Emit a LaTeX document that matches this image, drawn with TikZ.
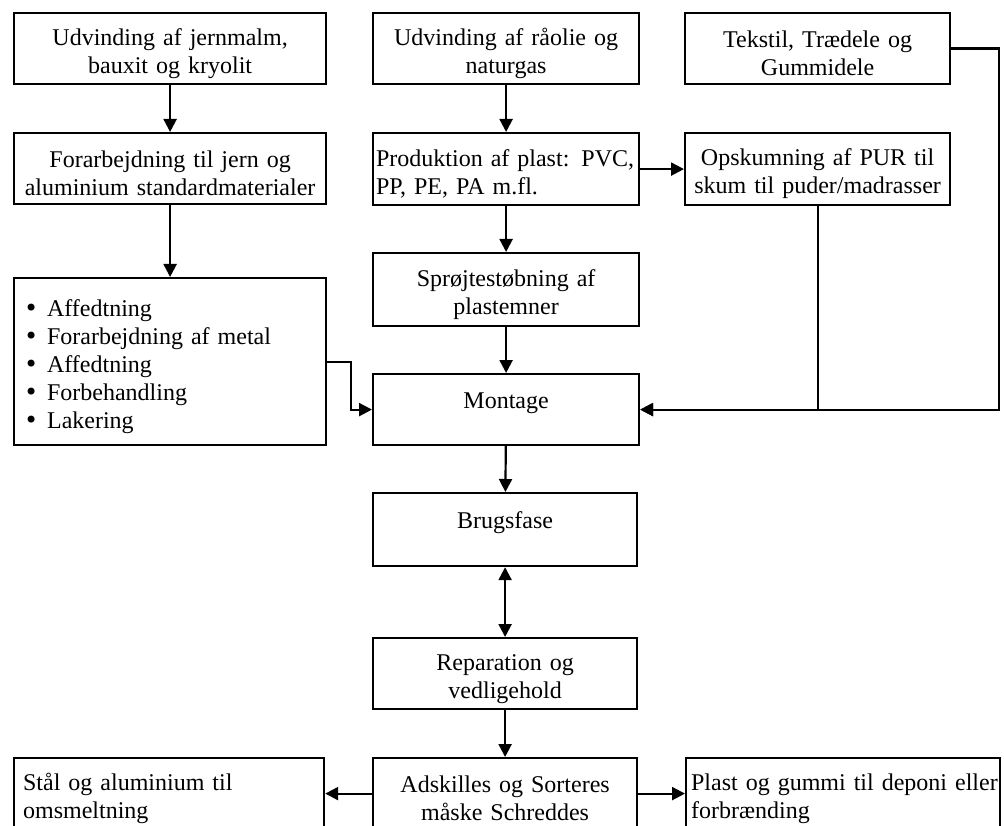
\documentclass[tikz,border=0pt]{standalone}
\usepackage{fontspec}
\setmainfont{Liberation Serif}
\newfontfamily\dotfont{DejaVu Sans}
\usetikzlibrary{arrows.meta}
\newlength{\du}
\setlength{\du}{1pt}
\newcommand{\listdot}{\makebox[23\du][l]{\dotfont •}}

\begin{document}
\begin{tikzpicture}[
  flowbox/.style={draw, rectangle, line width=2.2\du, anchor=north west,
    inner xsep=0\du, inner ysep=0\du, align=center,
    font=\fontsize{24}{28}\selectfont,
    execute at begin node={\rule{0pt}{26\du}}},
  flowarrow/.style={line width=2.2\du, -{Triangle[length=13pt,width=13pt]}},
  flowboth/.style={line width=2.2\du, {Triangle[length=13pt,width=13pt]}-{Triangle[length=13pt,width=13pt]}},
]
\pgftransformxscale{1.000000}
\pgftransformyscale{-1.000000}
\definecolor{dialinecolor}{rgb}{0.000000, 0.000000, 0.000000}
\useasboundingbox (0\du,0\du) rectangle (1004\du,826\du);
\clip (0\du,0\du) rectangle (1004\du,826\du);
% top row
\node[flowbox, text width=312\du, minimum height=71\du] (jern) at (13\du,12\du){Udvinding af jernmalm,\\bauxit og kryolit};
\node[flowbox, text width=266\du, minimum height=71\du] (raolie) at (372\du,12\du){Udvinding af råolie og\\naturgas};
\node[flowbox, text width=265\du, minimum height=71\du] (tekstil) at (684\du,12\du){Tekstil, Trædele og\\Gummidele};
% second row
\node[flowbox, text width=312\du, minimum height=71\du] (forarb) at (13\du,132\du){Forarbejdning til jern og\\aluminium standardmaterialer};
\node[flowbox, align=left, inner xsep=3\du, text width=260\du, minimum height=72\du] (plast) at (372\du,132\du){Produktion af plast: PVC,\\PP, PE, PA m.fl.};
\node[flowbox, text width=265\du, minimum height=72\du] (pur) at (684\du,132\du){Opskumning af PUR til\\skum til puder/madrasser};
% metal list and plastic parts
\node[flowbox, align=left, inner xsep=10\du, text width=292\du, minimum height=167\du] (metal) at (13\du,277\du){%
\listdot Affedtning\\
\listdot Forarbejdning af metal\\
\listdot Affedtning\\
\listdot Forbehandling\\
\listdot Lakering};
\node[flowbox, text width=266\du, minimum height=73\du] (sproejt) at (372\du,252\du){Sprøjtestøbning af\\plastemner};
% middle column
\node[flowbox, text width=266\du, minimum height=71\du] (montage) at (372\du,373\du){Montage\\\mbox{}};
\node[flowbox, text width=264\du, minimum height=73\du] (brug) at (372\du,492\du){Brugsfase\\\mbox{}};
\node[flowbox, text width=264\du, minimum height=71\du] (repar) at (372\du,637\du){Reparation og\\vedligehold};
% bottom row
\node[flowbox, text width=264\du, minimum height=71\du] (adskil) at (372\du,757\du){Adskilles og Sorteres\\måske Schreddes};
\node[flowbox, align=left, inner xsep=9\du, text width=292\du, minimum height=71\du] (staal) at (13\du,757\du){Stål og aluminium til\\omsmeltning};
\node[flowbox, align=left, inner xsep=5\du, text width=304\du, minimum height=71\du] (deponi) at (685\du,757\du){\mbox{Plast og gummi til deponi eller}\\forbrænding};
% arrows
\draw[flowarrow] (jern) -- (forarb);
\draw[flowarrow] (forarb) -- (metal);
\draw[flowarrow] (raolie) -- (plast);
\draw[flowarrow] (plast) -- (pur);
\draw[flowarrow] (plast) -- (sproejt);
\draw[flowarrow] (sproejt) -- (montage);
\draw[flowarrow] (metal.east) -- ++(24\du,0\du) |- (montage.west);
\draw[flowarrow] (pur.south) |- (montage.east);
\draw[flowarrow] (tekstil.east) -- ++(48\du,0\du) |- (montage.east);
\draw[flowarrow] (montage) -- (brug);
\draw[flowboth] (brug) -- (repar);
\draw[flowarrow] (repar) -- (adskil);
\draw[flowarrow] (adskil) -- (staal);
\draw[flowarrow] (adskil) -- (deponi);
\end{tikzpicture}
\end{document}
